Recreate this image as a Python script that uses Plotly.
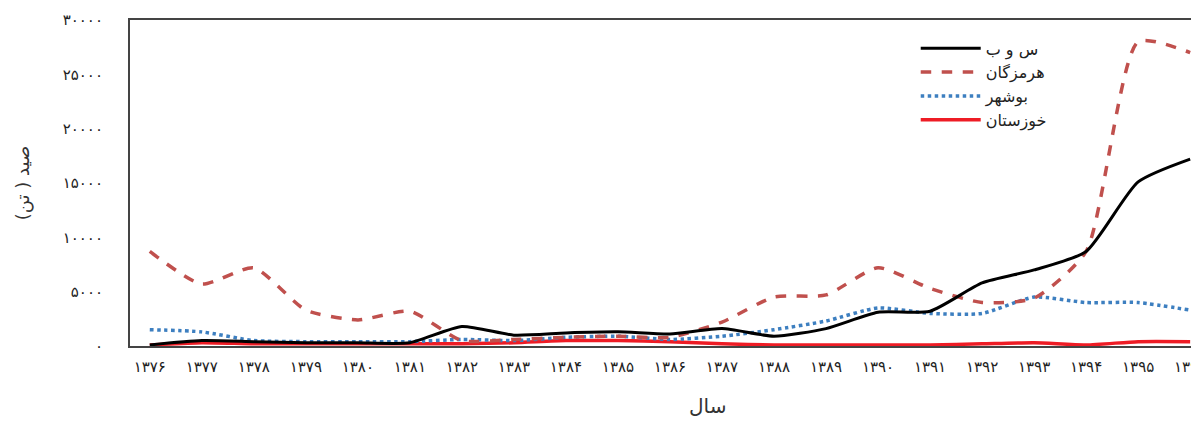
import plotly.graph_objects as go

years = list(range(1376, 1397))
fa_digits = str.maketrans("0123456789", "۰۱۲۳۴۵۶۷۸۹")
year_labels = [str(y).translate(fa_digits) for y in years]

sob = [100, 500, 400, 300, 300, 300, 1800, 1000, 1200, 1300, 1100, 1600, 900, 1600, 3100, 3200, 5800, 7000, 8700, 15100, 17200]
hormozgan = [8700, 5700, 7200, 3300, 2400, 3200, 500, 600, 800, 900, 800, 2200, 4500, 4700, 7200, 5300, 4000, 4400, 8700, 28000, 27000]
bushehr = [1500, 1300, 500, 400, 400, 400, 600, 500, 800, 900, 600, 900, 1500, 2300, 3500, 3000, 3000, 4500, 4000, 4000, 3300]
khuzestan = [100, 300, 200, 200, 200, 200, 200, 300, 500, 500, 400, 200, 100, 100, 100, 100, 200, 300, 100, 400, 400]

series_names = ["س و ب", "هرمزگان", "بوشهر", "خوزستان"]
y_ticks = [0, 5000, 10000, 15000, 20000, 25000, 30000]
y_tick_labels = [str(v).translate(fa_digits) for v in y_ticks]

FONT = "DejaVu Sans"

fig = go.Figure()
fig.add_trace(go.Scatter(x=years, y=khuzestan, name=series_names[3], mode="lines",
                         line=dict(color="#ee1c25", width=3.5, shape="spline", smoothing=0.6)))
fig.add_trace(go.Scatter(x=years, y=bushehr, name=series_names[2], mode="lines",
                         line=dict(color="#3d7fc0", width=3.5, dash="dot", shape="spline", smoothing=0.6)))
fig.add_trace(go.Scatter(x=years, y=hormozgan, name=series_names[1], mode="lines",
                         line=dict(color="#c0504d", width=3.5, dash="dash", shape="spline", smoothing=0.6)))
fig.add_trace(go.Scatter(x=years, y=sob, name=series_names[0], mode="lines",
                         line=dict(color="#000000", width=3, shape="spline", smoothing=0.6)))

fig.update_layout(
    width=1191, height=415,
    margin=dict(l=122, r=0, t=12, b=77),
    paper_bgcolor="white", plot_bgcolor="white",
    font=dict(family=FONT, color="#333"),
    showlegend=True,
    legend=dict(x=0.735, y=0.965, xanchor="left", yanchor="top",
                traceorder="reversed", bgcolor="rgba(0,0,0,0)",
                font=dict(size=16, color="#222", family=FONT),
                itemwidth=60, tracegroupgap=0),
    annotations=[dict(text="سال", xref="paper", yref="paper", x=0.54, y=-0.14,
                      xanchor="center", yanchor="top", showarrow=False,
                      font=dict(size=20, color="#333", family=FONT))],
)
fig.update_xaxes(range=[1375.62, 1396.17], tickmode="array", tickvals=years, ticktext=year_labels,
                 showgrid=False, zeroline=False, showline=True, linecolor="#444", linewidth=2,
                 mirror=True, ticks="", ticklabelstandoff=6, ticklabeloverflow="allow",
                 tickfont=dict(size=15, color="#222", family=FONT),
                 automargin=False)
fig.update_yaxes(range=[0, 30000], tickmode="array", tickvals=y_ticks, ticktext=y_tick_labels,
                 showgrid=False, zeroline=False, showline=True, linecolor="#444", linewidth=2,
                 mirror=True, ticks="", ticklabelstandoff=22,
                 tickfont=dict(size=15, color="#222", family=FONT),
                 title=dict(text="صید ( تن)", font=dict(size=18, color="#333", family=FONT), standoff=28),
                 automargin=False)

fig.write_html("out.html")
